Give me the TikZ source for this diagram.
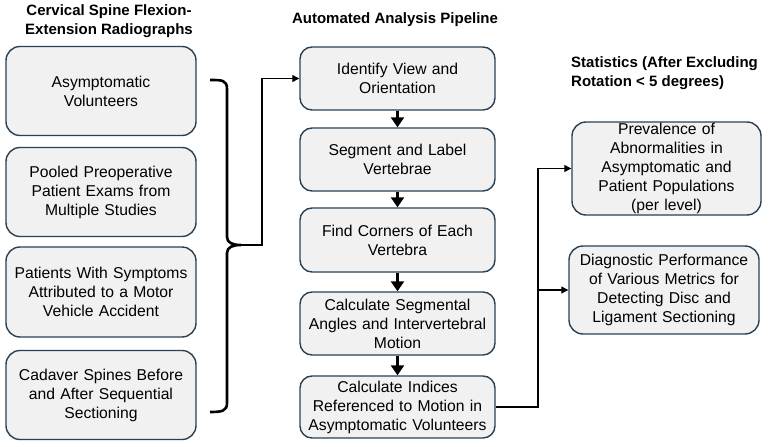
\documentclass[tikz,border=0pt]{standalone}
\usepackage{fontspec}
\setmainfont{Liberation Sans}
\usetikzlibrary{arrows.meta}
\definecolor{boxline}{HTML}{2A4155}
\definecolor{boxfill}{HTML}{F1F1F1}
\begin{document}
\begin{tikzpicture}[x=1pt,y=-1pt,
  box/.style={draw=boxline, fill=boxfill, line width=1.4pt, rounded corners=14pt, align=center, inner sep=1pt, font=\fontsize{15.7}{19}\selectfont},
  ttl/.style={align=center, inner sep=0pt, font=\bfseries\fontsize{15}{19}\selectfont},
  flow/.style={line width=2.6pt, -{Triangle[length=10pt,width=13pt]}},
  conn/.style={line width=1.2pt, -{Triangle[length=7pt,width=7pt]}}]
\useasboundingbox (0,0) rectangle (769,447);
% titles
\node[ttl] (t1) at (109,21) {Cervical Spine Flexion-\\Extension Radiographs};
\node[ttl] (t2) at (395,20) {Automated Analysis Pipeline};
\node[ttl, align=left, anchor=west] (t3) at (571,73) {Statistics (After Excluding\\Rotation < 5 degrees)};
% left boxes
\node[box, minimum width=190pt, minimum height=89pt, text width=186pt] (l1) at (101,91) {Asymptomatic\\Volunteers};
\node[box, minimum width=190pt, minimum height=89pt, text width=186pt] (l2) at (101,192) {Pooled Preoperative\\Patient Exams from\\Multiple Studies};
\node[box, minimum width=190pt, minimum height=90pt, text width=186pt] (l3) at (101,292) {Patients With Symptoms\\Attributed to a Motor\\Vehicle Accident};
\node[box, minimum width=190pt, minimum height=89pt, text width=186pt] (l4) at (101,395) {Cadaver Spines Before\\and After Sequential\\Sectioning};
% middle boxes
\node[box, rounded corners=12pt, minimum width=195pt, minimum height=63pt, text width=191pt] (m1) at (397.5,78.5) {Identify View and\\Orientation};
\node[box, rounded corners=12pt, minimum width=195pt, minimum height=63pt, text width=191pt] (m2) at (397.5,159.5) {Segment and Label\\Vertebrae};
\node[box, rounded corners=12pt, minimum width=195pt, minimum height=64pt, text width=191pt] (m3) at (397.5,240) {Find Corners of Each\\Vertebra};
\node[box, rounded corners=12pt, minimum width=195pt, minimum height=63pt, text width=191pt] (m4) at (397.5,323.5) {Calculate Segmental\\Angles and Intervertebral\\Motion};
\node[box, rounded corners=12pt, minimum width=195pt, minimum height=62pt, text width=191pt] (m5) at (397.5,407) {Calculate Indices\\Referenced to Motion in\\Asymptomatic Volunteers};
% right boxes
\node[box, minimum width=189pt, minimum height=93pt, text width=185pt] (r1) at (666.5,168.5) {Prevalence of\\Abnormalities in\\Asymptomatic and\\Patient Populations\\(per level)};
\node[box, minimum width=190pt, minimum height=88pt, text width=186pt] (r2) at (664,290) {Diagnostic Performance\\of Various Metrics for\\Detecting Disc and\\Ligament Sectioning};
% bracket
\draw[line width=2.6pt] (210,80) .. controls (222,80) and (227,80) .. (227,89) -- (227,237)
  .. controls (227,243) and (233,245) .. (241,245)
  .. controls (233,245) and (227,247) .. (227,253) -- (227,403)
  .. controls (227,411) and (222,412) .. (210,412);
\coordinate (tip) at (241,245);
\coordinate (lk) at (262,245);
\draw[conn] (tip) -- (lk) |- (m1.west);
% pipeline arrows
\draw[flow] (m1.south) -- (m2.north);
\draw[flow] (m2.south) -- (m3.north);
\draw[flow] (m3.south) -- (m4.north);
\draw[flow] (m4.south) -- (m5.north);
% right connectors
\coordinate (jt) at (538,168.5);
\coordinate (jb) at (538,290);
\draw[conn] (m5.east) -| (jt) -- (r1.west);
\draw[conn] (jb) -- (r2.west);
\end{tikzpicture}
\end{document}
